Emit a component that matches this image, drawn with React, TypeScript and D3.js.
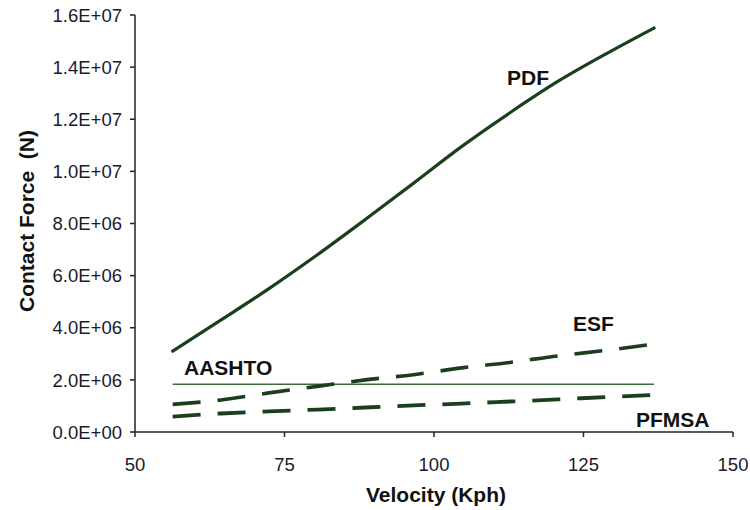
import React from "react";
import * as d3 from "d3";

const velocity = [56.3, 64.4, 72.4, 80.5, 88.5, 96.6, 104.6, 112.7, 120.7, 128.7, 136.8];
const pdf = [3.1e6, 4.3e6, 5.5e6, 6.8e6, 8.15e6, 9.55e6, 10.95e6, 12.25e6, 13.45e6, 14.5e6, 15.5e6];
const esf = [1.06e6, 1.23e6, 1.5e6, 1.75e6, 2.0e6, 2.2e6, 2.46e6, 2.67e6, 2.92e6, 3.13e6, 3.38e6];
const pfmsa = [0.59e6, 0.71e6, 0.79e6, 0.86e6, 0.94e6, 1.02e6, 1.09e6, 1.17e6, 1.25e6, 1.34e6, 1.42e6];
const aashto = [1.83e6, 1.83e6, 1.83e6, 1.83e6, 1.83e6, 1.83e6, 1.83e6, 1.83e6, 1.83e6, 1.83e6, 1.83e6];

const xTicks = [50, 75, 100, 125, 150];
const yTicks = [0, 2e6, 4e6, 6e6, 8e6, 1e7, 1.2e7, 1.4e7, 1.6e7];

const xLabel = "Velocity (Kph)";
const yLabel = "Contact Force  (N)";

const fmtE = (v: number) => {
  if (v === 0) return "0.0E+00";
  const s = d3.format(".1e")(v);
  const [m, e] = s.split("e");
  const sign = e[0] === "-" ? "-" : "+";
  const digits = e.replace(/[+-]/, "").padStart(2, "0");
  return `${m}E${sign}${digits}`;
};

export default function App() {
  const x = d3.scaleLinear().domain([50, 150]).range([135, 733]);
  const y = d3.scaleLinear().domain([0, 1.6e7]).range([432, 15]);
  const line = (vals: number[]) =>
    d3
      .line<number>()
      .x((_, i) => x(velocity[i]))
      .y((d) => y(d))
      .curve(d3.curveMonotoneX)(vals) as string;

  const font = "'Liberation Sans', Arial, sans-serif";
  const green = "#1b3f1d";
  const axisColor = "#222";

  return (
    <svg
      width={750}
      height={510}
      style={{ position: "absolute", left: 0, top: 0, background: "#fff" }}
      fontFamily={font}
    >
      <path d={line(aashto)} fill="none" stroke="#3d6b3f" strokeWidth={1.6} />
      <path d={line(pdf)} fill="none" stroke={green} strokeWidth={3.2} strokeLinecap="round" />
      <path d={line(esf)} fill="none" stroke={green} strokeWidth={3.6} strokeDasharray="28,17" />
      <path d={line(pfmsa)} fill="none" stroke={green} strokeWidth={3.8} strokeDasharray="28,17" />

      <line x1={x(50)} x2={x(50)} y1={y(1.6e7)} y2={y(0)} stroke={axisColor} strokeWidth={1.5} />
      <line x1={x(50)} x2={x(150)} y1={y(0)} y2={y(0)} stroke={axisColor} strokeWidth={1.5} />
      {yTicks.map((t) => (
        <g key={"y" + t}>
          <line x1={x(50) - 5} x2={x(50)} y1={y(t)} y2={y(t)} stroke={axisColor} strokeWidth={1.5} />
          <text x={122} y={y(t)} dy="0.36em" textAnchor="end" fontSize={18.5} fill="#1a1a2a">
            {fmtE(t)}
          </text>
        </g>
      ))}
      {xTicks.map((t) => (
        <g key={"x" + t}>
          <line x1={x(t)} x2={x(t)} y1={y(0)} y2={y(0) + 5} stroke={axisColor} strokeWidth={1.5} />
          <text x={x(t)} y={471} textAnchor="middle" fontSize={18.5} fill="#1a1a2a">
            {t}
          </text>
        </g>
      ))}

      <text x={436} y={502} textAnchor="middle" fontSize={21} fontWeight="bold" fill="#111">
        {xLabel}
      </text>
      <text
        transform="translate(34,221) rotate(-90)"
        textAnchor="middle"
        fontSize={21}
        fontWeight="bold"
        fill="#111"
        style={{ whiteSpace: "pre" }}
      >
        {yLabel}
      </text>

      <text x={507} y={85} fontSize={21} fontWeight="bold" fill="#111">PDF</text>
      <text x={573} y={331} fontSize={21} fontWeight="bold" fill="#111">ESF</text>
      <text x={184} y={375} fontSize={21} fontWeight="bold" fill="#111">AASHTO</text>
      <text x={636} y={427} fontSize={21} fontWeight="bold" fill="#111">PFMSA</text>
    </svg>
  );
}
